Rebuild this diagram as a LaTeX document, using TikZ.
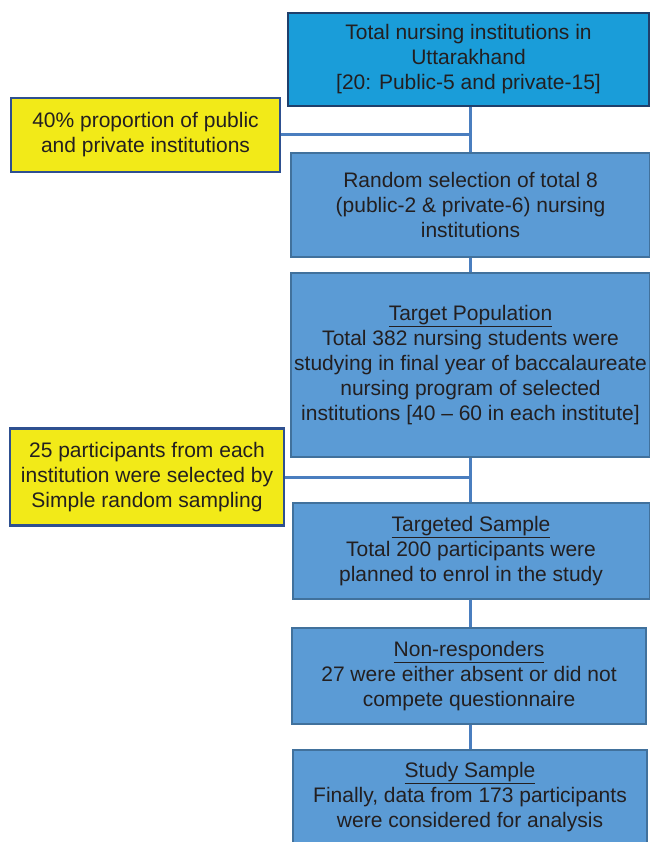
\documentclass[tikz,border=0pt]{standalone}
\usepackage{fontspec}
\setmainfont{Liberation Sans}
\definecolor{topfill}{HTML}{1A9DD9}
\definecolor{topline}{HTML}{1F3F6B}
\definecolor{bfill}{HTML}{5B9BD5}
\definecolor{bline}{HTML}{41719C}
\definecolor{yfill}{HTML}{F2EA18}
\definecolor{yline}{HTML}{2E5090}
\definecolor{conn}{HTML}{4A7EBF}
\definecolor{txt}{HTML}{231F20}
\begin{document}
\begin{tikzpicture}[x=1pt,y=-1pt,
  box/.style={draw, line width=2pt, inner sep=0pt, align=center, text=txt,
    font=\fontsize{21}{25}\selectfont},
  topbox/.style={box, fill=topfill, draw=topline},
  bluebox/.style={box, fill=bfill, draw=bline},
  yelbox/.style={box, fill=yfill, draw=yline, line width=2.5pt},
  link/.style={draw=conn, line width=3pt}]
\useasboundingbox (0,0) rectangle (649,842);
\node[topbox, minimum width=361pt, minimum height=93pt] (top) at (468.5,59.5)
  {Total nursing institutions in\\Uttarakhand\\{[20: Public-5 and private-15]}};
\node[yelbox, minimum width=269pt, minimum height=74pt] (y1) at (145.5,135)
  {40\% proportion of public\\and private institutions};
\node[bluebox, minimum width=359pt, minimum height=104pt] (b2) at (470.5,205)
  {Random selection of total 8\\(public-2 \& private-6) nursing\\institutions};
\node[bluebox, minimum width=359pt, minimum height=184pt] (b3) at (470.5,365)
  {\underline{Target Population}\\Total 382 nursing students were\\studying in final year of baccalaureate\\nursing program of selected\\institutions [40 -- 60 in each institute]};
\node[yelbox, minimum width=274pt, minimum height=97pt] (y2) at (147,477)
  {25 participants from each\\institution were selected by\\Simple random sampling};
\node[bluebox, minimum width=357pt, minimum height=96pt] (b4) at (471,551)
  {\underline{Targeted Sample}\\Total 200 participants were\\planned to enrol in the study};
\node[bluebox, minimum width=354pt, minimum height=96pt] (b5) at (469,676)
  {\underline{Non-responders}\\27 were either absent or did not\\compete questionnaire};
\node[bluebox, minimum width=354pt, minimum height=95pt] (b6) at (470,797.5)
  {\underline{Study Sample}\\Finally, data from 173 participants\\were considered for analysis};
\coordinate (j1) at (470,135);
\coordinate (j2) at (470,477);
\path[link] (top.south -| j1) -- (b2.north -| j1);
\path[link] (y1.east) -- (j1);
\path[link] (b2.south -| j1) -- (b3.north -| j1);
\path[link] (b3.south -| j2) -- (b4.north -| j2);
\path[link] (y2.east) -- (j2);
\path[link] (b4.south -| j2) -- (b5.north -| j2);
\path[link] (b5.south -| j2) -- (b6.north -| j2);
\end{tikzpicture}
\end{document}
